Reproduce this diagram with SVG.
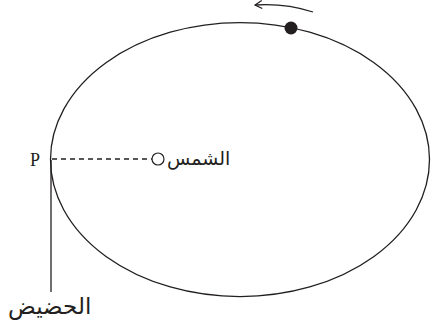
<svg xmlns="http://www.w3.org/2000/svg" width="431" height="323" viewBox="0 0 431 323">
<style>
.ln{fill:none;stroke:#231f20;stroke-width:1.3}
.ar{font-family:"DejaVu Sans","Noto Sans",sans-serif;fill:#231f20}
.lt{font-family:"Liberation Serif",serif;font-size:18px;fill:#231f20}
</style>
<defs>
<marker id="ah" markerWidth="10" markerHeight="10" refX="9" refY="5" orient="auto" markerUnits="userSpaceOnUse">
<path d="M2,1 L9,5 L2,9" fill="none" stroke="#231f20" stroke-width="1.2"/>
</marker>
</defs>
<g id="orbit"><ellipse class="ln" cx="240" cy="159.6" rx="189.5" ry="137"/></g>
<g id="planet"><circle cx="291" cy="28" r="6.5" fill="#231f20"/></g>
<g id="sun"><circle cx="158" cy="159" r="6" fill="#fff" stroke="#231f20" stroke-width="1.2"/><text class="ar" x="167" y="165" font-size="19">الشمس</text></g>
<g id="perihelion"><text class="lt" x="30" y="166">P</text><text class="ar" x="8" y="314" font-size="23">الحضيض</text></g>
<g id="connectors">
<path class="ln" d="M313,12 Q285,3 255,5" marker-end="url(#ah)"/>
<line class="ln" x1="52" y1="159" x2="152" y2="159" stroke-dasharray="5,4"/>
<line class="ln" x1="51" y1="160" x2="51" y2="292"/>
</g>
</svg>
